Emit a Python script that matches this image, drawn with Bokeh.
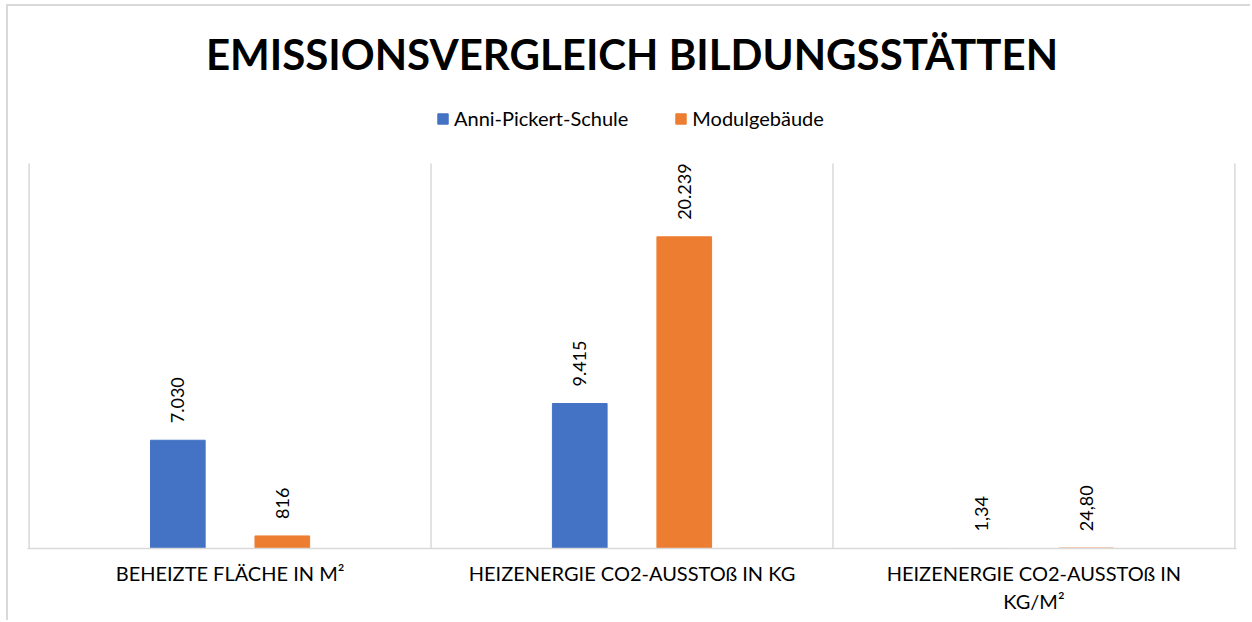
from math import pi
from bokeh.plotting import figure
from bokeh.models import (ColumnDataSource, Range1d, FixedTicker, Legend, LegendItem,
                          LabelSet)
from bokeh.core.properties import value
from bokeh.embed import file_html
from bokeh.resources import INLINE

# ---- data ----
categories = ["BEHEIZTE FLÄCHE IN M²",
              "HEIZENERGIE CO2-AUSSTOß IN KG",
              "HEIZENERGIE CO2-AUSSTOß IN\nKG/M²"]
series_names = ["Anni-Pickert-Schule", "Modulgebäude"]
anni_values = [7030, 9415, 1.34]
modul_values = [816, 20239, 24.80]
anni_labels = ["7.030", "9.415", "1,34"]
modul_labels = ["816", "20.239", "24,80"]
title_text = "EMISSIONSVERGLEICH BILDUNGSSTÄTTEN"
y_max = 25000

BLUE = "#4472C4"
ORANGE = "#ED7D31"
GRID = "#D9D9D9"
FONT = "Lato"

n = len(categories)
centers = [i + 0.5 for i in range(n)]
off = 0.13
bw = 0.136

frame_h = 463
plot_h = 385
y_top = y_max * frame_h / plot_h

src_a = ColumnDataSource(dict(x=[c - off for c in centers], top=anni_values, lab=anni_labels))
src_m = ColumnDataSource(dict(x=[c + off for c in centers], top=modul_values, lab=modul_labels))
bounds = ColumnDataSource(dict(x=[float(i) for i in range(n + 1)],
                               y0=[0] * (n + 1), y1=[y_max] * (n + 1)))

p = figure(width=1244, height=616, output_backend="svg", toolbar_location=None,
           x_range=Range1d(-0.004, n + 0.004), y_range=Range1d(0, y_top),
           min_border_left=19, min_border_right=16, min_border_top=79, min_border_bottom=74)
p.margin = (4, 0, 0, 6)
p.styles = {"border-top": "2px solid #D9D9D9", "border-left": "2px solid #D9D9D9"}

p.title.text = title_text
p.title.align = "center"
p.title.text_font = FONT
p.title.text_font_style = "bold"
p.title.text_font_size = "42px"
p.title.text_color = "#000000"
p.title.standoff = 14

p.segment(x0="x", y0="y0", x1="x", y1="y1", source=bounds, line_color=GRID, line_width=1.5)

ra = p.vbar(x="x", top="top", width=bw, bottom=0, source=src_a, fill_color=BLUE, line_color=BLUE)
rm = p.vbar(x="x", top="top", width=bw, bottom=0, source=src_m, fill_color=ORANGE, line_color=ORANGE)

for s in (src_a, src_m):
    p.add_layout(LabelSet(x="x", y="top", text="lab", source=s, angle=pi / 2,
                          text_align="left", text_baseline="middle", y_offset=17,
                          text_font=value(FONT), text_font_size=value("18px"),
                          text_color=value("#000000")))

legend = Legend(items=[LegendItem(label=series_names[0], renderers=[ra]),
                       LegendItem(label=series_names[1], renderers=[rm])],
                orientation="horizontal", location=(409, 418),
                glyph_width=13, glyph_height=13, label_standoff=5, spacing=46,
                label_text_font=FONT, label_text_font_size="20px", label_text_color="#000000",
                border_line_color=None, background_fill_alpha=0, margin=0, padding=0)
p.add_layout(legend)

p.yaxis.visible = False
p.ygrid.grid_line_color = None
p.xgrid.grid_line_color = None

ax = p.xaxis[0]
ax.ticker = FixedTicker(ticks=centers)
ax.major_label_overrides = {c: lab for c, lab in zip(centers, categories)}
ax.major_label_text_font = FONT
ax.major_label_text_font_size = "20px"
ax.major_label_text_color = "#000000"
ax.major_label_standoff = 6
ax.major_tick_line_color = None
ax.minor_tick_line_color = None
ax.axis_line_color = GRID
ax.axis_line_width = 1.5

p.outline_line_color = None
p.background_fill_color = "white"
p.border_fill_color = "white"

open("out.html", "w").write(file_html(p, INLINE))
